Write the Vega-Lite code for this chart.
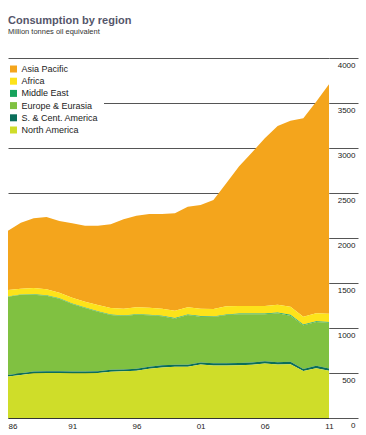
{
  "$schema": "https://vega.github.io/schema/vega-lite/v6.json",
  "width": 321,
  "height": 360,
  "autosize": {"type": "none"},
  "padding": {"left": 8, "top": 58, "right": 37, "bottom": 17},
  "background": "white",
  "config": {"view": {"stroke": null}, "font": "Liberation Sans"},
  "title": {
    "text": "Consumption by region",
    "subtitle": "Million tonnes oil equivalent",
    "anchor": "start",
    "frame": "group",
    "offset": 22,
    "font": "Liberation Sans",
    "fontSize": 11,
    "fontWeight": "bold",
    "color": "#55566a",
    "subtitleFont": "Liberation Sans",
    "subtitleFontSize": 7.5,
    "subtitleColor": "#333333",
    "subtitlePadding": 2
  },
  "data": {"values": [
    {"year":1986,"region":"Asia Pacific","value":659},{"year":1986,"region":"Africa","value":71},{"year":1986,"region":"Middle East","value":3},{"year":1986,"region":"Europe & Eurasia","value":870},{"year":1986,"region":"S. & Cent. America","value":18},{"year":1986,"region":"North America","value":460},
    {"year":1987,"region":"Asia Pacific","value":733},{"year":1987,"region":"Africa","value":64},{"year":1987,"region":"Middle East","value":3},{"year":1987,"region":"Europe & Eurasia","value":872},{"year":1987,"region":"S. & Cent. America","value":19},{"year":1987,"region":"North America","value":479},
    {"year":1988,"region":"Asia Pacific","value":775},{"year":1988,"region":"Africa","value":70},{"year":1988,"region":"Middle East","value":4},{"year":1988,"region":"Europe & Eurasia","value":854},{"year":1988,"region":"S. & Cent. America","value":19},{"year":1988,"region":"North America","value":497},
    {"year":1989,"region":"Asia Pacific","value":803},{"year":1989,"region":"Africa","value":67},{"year":1989,"region":"Middle East","value":4},{"year":1989,"region":"Europe & Eurasia","value":839},{"year":1989,"region":"S. & Cent. America","value":20},{"year":1989,"region":"North America","value":500},
    {"year":1990,"region":"Asia Pacific","value":796},{"year":1990,"region":"Africa","value":63},{"year":1990,"region":"Middle East","value":4},{"year":1990,"region":"Europe & Eurasia","value":806},{"year":1990,"region":"S. & Cent. America","value":20},{"year":1990,"region":"North America","value":500},
    {"year":1991,"region":"Asia Pacific","value":826},{"year":1991,"region":"Africa","value":66},{"year":1991,"region":"Middle East","value":4},{"year":1991,"region":"Europe & Eurasia","value":751},{"year":1991,"region":"S. & Cent. America","value":20},{"year":1991,"region":"North America","value":496},
    {"year":1992,"region":"Asia Pacific","value":844},{"year":1992,"region":"Africa","value":66},{"year":1992,"region":"Middle East","value":5},{"year":1992,"region":"Europe & Eurasia","value":706},{"year":1992,"region":"S. & Cent. America","value":20},{"year":1992,"region":"North America","value":496},
    {"year":1993,"region":"Asia Pacific","value":881},{"year":1993,"region":"Africa","value":70},{"year":1993,"region":"Middle East","value":5},{"year":1993,"region":"Europe & Eurasia","value":661},{"year":1993,"region":"S. & Cent. America","value":20},{"year":1993,"region":"North America","value":500},
    {"year":1994,"region":"Asia Pacific","value":930},{"year":1994,"region":"Africa","value":73},{"year":1994,"region":"Middle East","value":5},{"year":1994,"region":"Europe & Eurasia","value":608},{"year":1994,"region":"S. & Cent. America","value":21},{"year":1994,"region":"North America","value":515},
    {"year":1995,"region":"Asia Pacific","value":992},{"year":1995,"region":"Africa","value":76},{"year":1995,"region":"Middle East","value":6},{"year":1995,"region":"Europe & Eurasia","value":593},{"year":1995,"region":"S. & Cent. America","value":21},{"year":1995,"region":"North America","value":519},
    {"year":1996,"region":"Asia Pacific","value":1018},{"year":1996,"region":"Africa","value":76},{"year":1996,"region":"Middle East","value":6},{"year":1996,"region":"Europe & Eurasia","value":601},{"year":1996,"region":"S. & Cent. America","value":22},{"year":1996,"region":"North America","value":525},
    {"year":1997,"region":"Asia Pacific","value":1041},{"year":1997,"region":"Africa","value":79},{"year":1997,"region":"Middle East","value":6},{"year":1997,"region":"Europe & Eurasia","value":571},{"year":1997,"region":"S. & Cent. America","value":23},{"year":1997,"region":"North America","value":547},
    {"year":1998,"region":"Asia Pacific","value":1052},{"year":1998,"region":"Africa","value":79},{"year":1998,"region":"Middle East","value":6},{"year":1998,"region":"Europe & Eurasia","value":545},{"year":1998,"region":"S. & Cent. America","value":23},{"year":1998,"region":"North America","value":562},
    {"year":1999,"region":"Asia Pacific","value":1081},{"year":1999,"region":"Africa","value":83},{"year":1999,"region":"Middle East","value":6},{"year":1999,"region":"Europe & Eurasia","value":513},{"year":1999,"region":"S. & Cent. America","value":22},{"year":1999,"region":"North America","value":569},
    {"year":2000,"region":"Asia Pacific","value":1118},{"year":2000,"region":"Africa","value":79},{"year":2000,"region":"Middle East","value":7},{"year":2000,"region":"Europe & Eurasia","value":553},{"year":2000,"region":"S. & Cent. America","value":22},{"year":2000,"region":"North America","value":569},
    {"year":2001,"region":"Asia Pacific","value":1152},{"year":2001,"region":"Africa","value":82},{"year":2001,"region":"Middle East","value":7},{"year":2001,"region":"Europe & Eurasia","value":508},{"year":2001,"region":"S. & Cent. America","value":23},{"year":2001,"region":"North America","value":595},
    {"year":2002,"region":"Asia Pacific","value":1211},{"year":2002,"region":"Africa","value":82},{"year":2002,"region":"Middle East","value":7},{"year":2002,"region":"Europe & Eurasia","value":515},{"year":2002,"region":"S. & Cent. America","value":23},{"year":2002,"region":"North America","value":584},
    {"year":2003,"region":"Asia Pacific","value":1366},{"year":2003,"region":"Africa","value":90},{"year":2003,"region":"Middle East","value":7},{"year":2003,"region":"Europe & Eurasia","value":536},{"year":2003,"region":"S. & Cent. America","value":24},{"year":2003,"region":"North America","value":584},
    {"year":2004,"region":"Asia Pacific","value":1553},{"year":2004,"region":"Africa","value":84},{"year":2004,"region":"Middle East","value":8},{"year":2004,"region":"Europe & Eurasia","value":540},{"year":2004,"region":"S. & Cent. America","value":25},{"year":2004,"region":"North America","value":587},
    {"year":2005,"region":"Asia Pacific","value":1706},{"year":2005,"region":"Africa","value":84},{"year":2005,"region":"Middle East","value":8},{"year":2005,"region":"Europe & Eurasia","value":536},{"year":2005,"region":"S. & Cent. America","value":25},{"year":2005,"region":"North America","value":591},
    {"year":2006,"region":"Asia Pacific","value":1863},{"year":2006,"region":"Africa","value":84},{"year":2006,"region":"Middle East","value":8},{"year":2006,"region":"Europe & Eurasia","value":521},{"year":2006,"region":"S. & Cent. America","value":25},{"year":2006,"region":"North America","value":606},
    {"year":2007,"region":"Asia Pacific","value":1985},{"year":2007,"region":"Africa","value":88},{"year":2007,"region":"Middle East","value":8},{"year":2007,"region":"Europe & Eurasia","value":543},{"year":2007,"region":"S. & Cent. America","value":26},{"year":2007,"region":"North America","value":594},
    {"year":2008,"region":"Asia Pacific","value":2067},{"year":2008,"region":"Africa","value":91},{"year":2008,"region":"Middle East","value":9},{"year":2008,"region":"Europe & Eurasia","value":513},{"year":2008,"region":"S. & Cent. America","value":26},{"year":2008,"region":"North America","value":598},
    {"year":2009,"region":"Asia Pacific","value":2204},{"year":2009,"region":"Africa","value":87},{"year":2009,"region":"Middle East","value":9},{"year":2009,"region":"Europe & Eurasia","value":486},{"year":2009,"region":"S. & Cent. America","value":23},{"year":2009,"region":"North America","value":521},
    {"year":2010,"region":"Asia Pacific","value":2351},{"year":2010,"region":"Africa","value":87},{"year":2010,"region":"Middle East","value":9},{"year":2010,"region":"Europe & Eurasia","value":487},{"year":2010,"region":"S. & Cent. America","value":26},{"year":2010,"region":"North America","value":554},
    {"year":2011,"region":"Asia Pacific","value":2548},{"year":2011,"region":"Africa","value":91},{"year":2011,"region":"Middle East","value":9},{"year":2011,"region":"Europe & Eurasia","value":508},{"year":2011,"region":"S. & Cent. America","value":27},{"year":2011,"region":"North America","value":524}
  ]},
  "transform": [
    {"calculate": "indexof(['North America','S. & Cent. America','Europe & Eurasia','Middle East','Africa','Asia Pacific'], datum.region)", "as": "ord"}
  ],
  "mark": {"type": "area", "interpolate": "linear"},
  "encoding": {
    "x": {
      "field": "year", "type": "quantitative",
      "scale": {"domain": [1986, 2011], "nice": false, "zero": false},
      "axis": {
        "values": [1986, 1991, 1996, 2001, 2006, 2011],
        "format": "d",
        "labelExpr": "slice(datum.label, 2)",
        "grid": false, "ticks": false,
        "domain": true, "domainColor": "#333333", "domainWidth": 1,
        "labelPadding": 4, "labelFontSize": 8, "labelColor": "#222222",
        "labelFont": "Liberation Sans",
        "labelAlign": {"condition": {"test": "datum.value == 1986", "value": "left"}, "value": "center"},
        "labelFlush": false,
        "title": null, "zindex": 1
      }
    },
    "y": {
      "field": "value", "type": "quantitative", "stack": "zero",
      "scale": {"domain": [0, 4000], "nice": false},
      "axis": {
        "orient": "right",
        "values": [0, 500, 1000, 1500, 2000, 2500, 3000, 3500, 4000],
        "format": "d",
        "grid": true, "gridColor": "#555555", "gridWidth": 1,
        "ticks": true, "tickSize": 29, "tickColor": "#555555", "tickWidth": 1,
        "domain": false,
        "labelAlign": "right", "labelBaseline": "top",
        "labelPadding": -3, "labelOffset": 3,
        "labelFontSize": 8, "labelColor": "#222222", "labelFont": "Liberation Sans",
        "title": null, "zindex": 0
      }
    },
    "color": {
      "field": "region", "type": "nominal",
      "scale": {
        "domain": ["Asia Pacific", "Africa", "Middle East", "Europe & Eurasia", "S. & Cent. America", "North America"],
        "range": ["#f4a51c", "#fde31a", "#17a35c", "#80c141", "#0a6e5a", "#cfdd29"]
      },
      "legend": {
        "orient": "none", "legendX": -4, "legendY": 1.5,
        "title": null,
        "symbolType": "square", "symbolSize": 49, "symbolStrokeWidth": 0, "symbolOpacity": 1,
        "labelFontSize": 9, "labelColor": "#222222", "labelFont": "Liberation Sans",
        "labelOffset": 3.5, "rowPadding": 2.2, "padding": 5, "fillColor": "white"
      }
    },
    "order": {"field": "ord", "type": "quantitative", "sort": "ascending"}
  }
}
